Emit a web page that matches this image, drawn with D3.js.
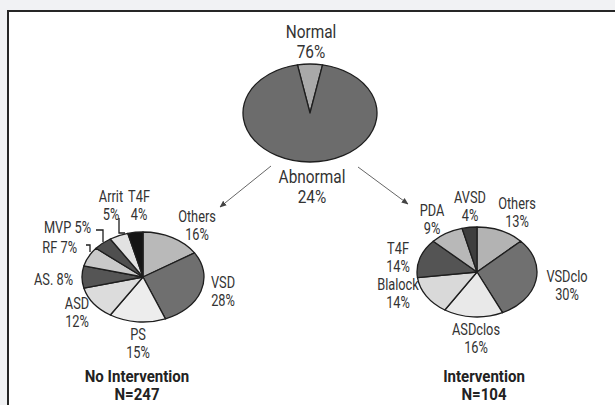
<!DOCTYPE html>
<html>
<head>
<meta charset="utf-8">
<script src="https://cdn.jsdelivr.net/npm/d3@7"></script>
<style>
  body { margin: 0; background: #f1f2f4; }
  text { font-family: Roboto, "Liberation Sans", sans-serif; fill: #333; }
  text.title { fill: #222; font-weight: bold; }
</style>
</head>
<body>
<div id="chart-area"></div>
<script>
// top pie: printed labels and the wedge sizes as drawn in the picture
let topLabels = ["Normal", "Abnormal"];
let topPct = [76, 24];
let topDrawn = [6, 94];

// no intervention (left pie), clockwise from 12 o'clock
let leftCats = ["Others", "VSD", "PS", "ASD", "AS.", "RF", "MVP", "Arrit", "T4F"];
let leftPct = [16, 28, 15, 12, 8, 7, 5, 5, 4];
let leftFill = ["#b9b9b9", "#6f6f6f", "#ededed", "#dcdcdc", "#555555", "#c9c9c9", "#4f4f4f", "#e2e2e2", "#151515"];

// intervention (right pie)
let rightCats = ["Others", "VSDclo", "ASDclos", "Blalock", "T4F", "PDA", "AVSD"];
let rightPct = [13, 30, 16, 14, 14, 9, 4];
let rightFill = ["#b3b3b3", "#707070", "#e9e9e9", "#d9d9d9", "#545454", "#b8b8b8", "#3e3e3e"];

let groupTitles = ["No Intervention", "Intervention"];
let groupN = [247, 104];

let width = 615, height = 405;

let svg = d3.select("#chart-area")
            .append("svg")
            .attr("width", width)
            .attr("height", height);

// white panel with dark top/left border
svg.append("rect")
    .attr("x", 8).attr("y", 11)
    .attr("width", width - 8).attr("height", height - 11)
    .attr("fill", "#fff");
svg.append("path")
    .attr("d", "M8," + height + "V11H" + width)
    .attr("fill", "none")
    .attr("stroke", "#262626")
    .attr("stroke-width", 2);

function drawPie(cx, cy, rx, ry, values, fills, startAngle) {
    let pie = d3.pie().sort(null).startAngle(startAngle).endAngle(startAngle + 2 * Math.PI);
    let arc = d3.arc().innerRadius(0).outerRadius(rx);
    let g = svg.append("g")
        .attr("transform", "translate(" + cx + "," + cy + ") scale(1," + (ry / rx) + ")");
    g.selectAll("path")
        .data(pie(values))
        .enter()
        .append("path")
        .attr("d", arc)
        .attr("fill", function(d, i){ return fills[i]; })
        .attr("stroke", "#1e1e1e")
        .attr("stroke-width", 1.3)
        .attr("stroke-linejoin", "round")
        .attr("vector-effect", "non-scaling-stroke");
    return g;
}

// top pie
drawPie(310, 113, 67, 49, topDrawn, ["#a9a9a9", "#6c6c6c"], -topDrawn[0] / 100 * Math.PI);
drawPie(143, 277, 61, 45, leftPct, leftFill, 0);
drawPie(477, 272, 60, 45, rightPct, rightFill, 0);

// condensed look: squeeze text horizontally
function label(x, y, lines, size, anchor, sx, cls) {
    let t = svg.append("text")
        .attr("class", cls || null)
        .attr("transform", "translate(" + x + "," + y + ") scale(" + sx + ",1)")
        .attr("text-anchor", anchor || "middle")
        .attr("font-size", size + "px");
    lines.forEach(function(s, i){
        t.append("tspan").attr("x", 0).attr("dy", i == 0 ? 0 : "1.15em").text(s);
    });
}

let fs = 16, sq = 0.8;
// top labels
label(311, 38, [topLabels[0], topPct[0] + "%"], 17.5, "middle", 0.88);
label(312, 183, [topLabels[1], topPct[1] + "%"], 17.5, "middle", 0.88);

// left pie labels
label(197, 222, [leftCats[0], leftPct[0] + "%"], fs, "middle", sq);
label(223, 288, [leftCats[1], leftPct[1] + "%"], fs, "middle", sq);
label(138, 340, [leftCats[2], leftPct[2] + "%"], fs, "middle", sq);
label(77, 309, [leftCats[3], leftPct[3] + "%"], fs, "middle", sq);
label(73, 285, [leftCats[4] + " " + leftPct[4] + "%"], fs, "end", sq);
label(77, 253, [leftCats[5] + " " + leftPct[5] + "%"], fs, "end", sq);
label(91, 233, [leftCats[6] + " " + leftPct[6] + "%"], fs, "end", sq);
label(111, 202, [leftCats[7], leftPct[7] + "%"], fs, "middle", sq);
label(139, 202, [leftCats[8], leftPct[8] + "%"], fs, "middle", sq);

// right pie labels
label(432, 216, [rightCats[5], rightPct[5] + "%"], fs, "middle", sq);
label(470, 203, [rightCats[6], rightPct[6] + "%"], fs, "middle", sq);
label(517, 209, [rightCats[0], rightPct[0] + "%"], fs, "middle", sq);
label(567, 282, [rightCats[1], rightPct[1] + "%"], fs, "middle", sq);
label(476, 335, [rightCats[2], rightPct[2] + "%"], fs, "middle", sq);
label(398, 290, [rightCats[3], rightPct[3] + "%"], fs, "middle", sq);
label(398, 254, [rightCats[4], rightPct[4] + "%"], fs, "middle", sq);

// group titles
label(137, 382, [groupTitles[0], "N=" + groupN[0]], 16, "middle", 0.94, "title");
label(484, 382, [groupTitles[1], "N=" + groupN[1]], 16, "middle", 0.94, "title");

// leader brackets for the small slices
let brackets = [
    "M86,245H90V252",
    "M96,230H103V242",
    "M119,218V233H125"
];
svg.selectAll(".bracket")
    .data(brackets)
    .enter()
    .append("path")
    .attr("class", "bracket")
    .attr("d", function(d){ return d; })
    .attr("fill", "none")
    .attr("stroke", "#1e1e1e")
    .attr("stroke-width", 1.3);

// arrows
let defs = svg.append("defs");
defs.append("marker")
    .attr("id", "head")
    .attr("viewBox", "0 0 10 10")
    .attr("refX", 9).attr("refY", 5)
    .attr("markerWidth", 7).attr("markerHeight", 7)
    .attr("orient", "auto")
    .append("path")
    .attr("d", "M0,1L10,5L0,9Z")
    .attr("fill", "#444");

let arrows = [[271, 166, 220, 207], [358, 167, 408, 204]];
svg.selectAll(".arrow")
    .data(arrows)
    .enter()
    .append("line")
    .attr("class", "arrow")
    .attr("x1", function(d){ return d[0]; })
    .attr("y1", function(d){ return d[1]; })
    .attr("x2", function(d){ return d[2]; })
    .attr("y2", function(d){ return d[3]; })
    .attr("stroke", "#666")
    .attr("stroke-width", 1)
    .attr("marker-end", "url(#head)");
</script>
</body>
</html>
